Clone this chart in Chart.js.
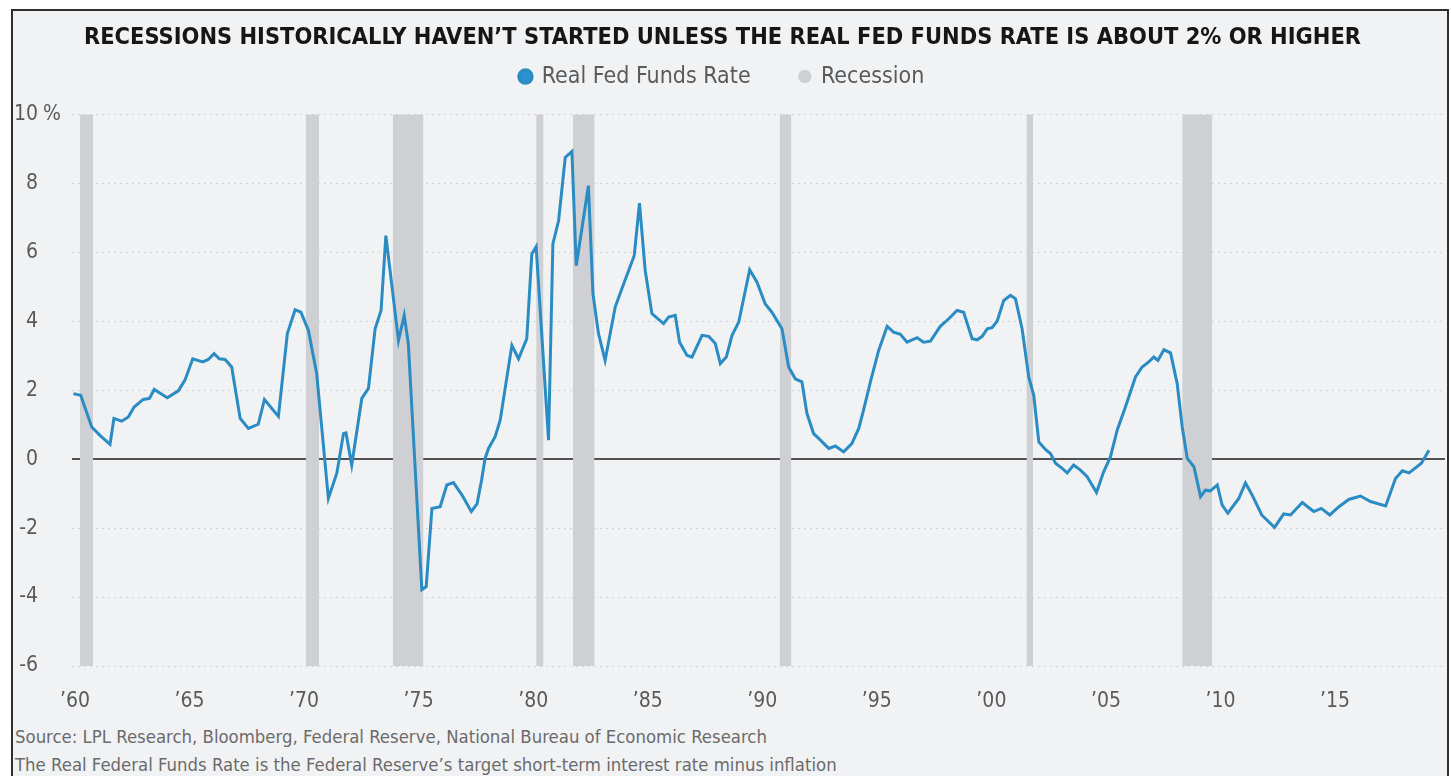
<!DOCTYPE html>
<html>
<head>
<meta charset="utf-8">
<script src="https://cdn.jsdelivr.net/npm/chart.js@4.4.1/dist/chart.umd.min.js"></script>
<style>
  html, body { margin: 0; padding: 0; background: #fff; }
  body { width: 1451px; height: 776px; position: relative; overflow: hidden;
         font-family: 'Liberation Sans Narrow', 'DejaVu Sans Condensed', 'Roboto', sans-serif; }
  #frame { position: absolute; left: 11px; top: 9px; width: 1434px; height: 780px;
           background: #f1f2f4; border: 2px solid #2e2e2e; }
  #wrap { position: absolute; left: 0; top: 0; width: 1451px; height: 722px; }
  .note { position: absolute; left: 15px; font-size: 18.4px; line-height: 22px; color: #6b6b6b; white-space: nowrap; }
</style>
</head>
<body>
<div id="frame"></div>
<div id="wrap"><canvas id="myChart"></canvas></div>
<div class="note" style="top:726px">Source: LPL Research, Bloomberg, Federal Reserve, National Bureau of Economic Research</div>
<div class="note" style="top:754px">The Real Federal Funds Rate is the Federal Reserve’s target short-term interest rate minus inflation</div>
<script>
  const FONT = "'Liberation Sans Narrow', 'DejaVu Sans Condensed', 'Roboto', sans-serif";

  // real fed funds rate (decimal year, %)
  const rateYears = [
    1959.93, 1960.25, 1960.73, 1961.09, 1961.53, 1961.70, 1962.04, 1962.33, 1962.58, 1962.98,
    1963.25, 1963.46, 1964.03, 1964.51, 1964.80, 1965.14, 1965.58, 1965.82, 1966.07, 1966.30,
    1966.55, 1966.84, 1967.21, 1967.57, 1968.00, 1968.27, 1968.88, 1969.27, 1969.61, 1969.86,
    1970.19, 1970.55, 1971.06, 1971.43, 1971.72, 1971.83, 1972.08, 1972.52, 1972.81, 1973.10,
    1973.36, 1973.57, 1974.12, 1974.37, 1974.55, 1975.14, 1975.33, 1975.58, 1975.94, 1976.23,
    1976.52, 1976.90, 1977.30, 1977.55, 1977.75, 1977.90, 1978.05, 1978.34, 1978.56, 1979.07,
    1979.36, 1979.72, 1979.94, 1980.13, 1980.67, 1980.86, 1981.11, 1981.40, 1981.69, 1981.88,
    1982.41, 1982.61, 1982.85, 1983.14, 1983.58, 1983.87, 1984.41, 1984.64, 1984.89, 1985.18,
    1985.69, 1985.91, 1986.20, 1986.39, 1986.71, 1986.93, 1987.37, 1987.66, 1987.95, 1988.17,
    1988.43, 1988.68, 1988.97, 1989.45, 1989.77, 1990.13, 1990.42, 1990.86, 1991.15, 1991.44,
    1991.73, 1991.95, 1992.24, 1992.46, 1992.90, 1993.19, 1993.55, 1993.91, 1994.21, 1994.42,
    1994.72, 1995.08, 1995.45, 1995.73, 1996.03, 1996.32, 1996.76, 1997.04, 1997.34, 1997.77,
    1998.14, 1998.50, 1998.79, 1999.16, 1999.38, 1999.60, 1999.82, 2000.03, 2000.25, 2000.54,
    2000.83, 2001.05, 2001.34, 2001.63, 2001.85, 2002.07, 2002.36, 2002.58, 2002.80, 2003.09,
    2003.31, 2003.59, 2003.89, 2004.18, 2004.59, 2004.90, 2005.20, 2005.49, 2005.85, 2006.29,
    2006.58, 2006.87, 2007.09, 2007.27, 2007.53, 2007.82, 2008.11, 2008.33, 2008.55, 2008.84,
    2009.13, 2009.34, 2009.56, 2009.86, 2010.07, 2010.32, 2010.80, 2011.09, 2011.38, 2011.80,
    2012.36, 2012.76, 2013.06, 2013.57, 2014.07, 2014.40, 2014.77, 2015.17, 2015.60, 2016.11,
    2016.55, 2017.21, 2017.64, 2017.94, 2018.23, 2018.77, 2019.10
  ];
  const rateValues = [
    1.90, 1.85, 0.93, 0.69, 0.43, 1.18, 1.10, 1.22, 1.51, 1.73,
    1.76, 2.02, 1.78, 1.98, 2.29, 2.91, 2.82, 2.89, 3.06, 2.91,
    2.89, 2.67, 1.18, 0.89, 1.01, 1.73, 1.24, 3.64, 4.33, 4.26,
    3.73, 2.48, -1.14, -0.41, 0.74, 0.76, -0.17, 1.76, 2.05, 3.78,
    4.31, 6.48, 3.44, 4.17, 3.35, -3.79, -3.70, -1.43, -1.38, -0.75,
    -0.68, -1.05, -1.52, -1.30, -0.60, 0.02, 0.31, 0.65, 1.13, 3.30,
    2.91, 3.49, 5.95, 6.16, 0.55, 6.24, 6.92, 8.75, 8.92, 5.61,
    7.93, 4.79, 3.64, 2.86, 4.41, 4.94, 5.90, 7.42, 5.47, 4.22,
    3.93, 4.12, 4.17, 3.39, 3.01, 2.96, 3.59, 3.56, 3.35, 2.77,
    2.96, 3.59, 3.97, 5.49, 5.13, 4.50, 4.26, 3.78, 2.67, 2.33,
    2.24, 1.32, 0.74, 0.60, 0.31, 0.38, 0.21, 0.45, 0.89, 1.42,
    2.24, 3.15, 3.85, 3.68, 3.62, 3.39, 3.52, 3.39, 3.42, 3.85,
    4.07, 4.31, 4.26, 3.49, 3.46, 3.56, 3.78, 3.81, 4.00, 4.60,
    4.75, 4.65, 3.78, 2.38, 1.85, 0.50, 0.28, 0.16, -0.12, -0.27,
    -0.40, -0.17, -0.32, -0.51, -0.97, -0.37, 0.07, 0.84, 1.51, 2.38,
    2.67, 2.82, 2.96, 2.86, 3.17, 3.08, 2.19, 0.93, 0.02, -0.22,
    -1.09, -0.90, -0.92, -0.75, -1.33, -1.57, -1.14, -0.69, -1.04, -1.62,
    -1.98, -1.59, -1.62, -1.26, -1.52, -1.43, -1.62, -1.38, -1.17, -1.07,
    -1.23, -1.36, -0.56, -0.34, -0.40, -0.12, 0.26
  ];

  // recession bands as drawn (start / end, decimal year)
  const recStart = [1960.22, 1970.07, 1973.87, 1980.13, 1981.73, 1990.76, 2001.53, 2008.33];
  const recEnd   = [1960.79, 1970.66, 1975.21, 1980.45, 1982.68, 1991.27, 2001.82, 2009.64];

  const xTicks = [1960, 1965, 1970, 1975, 1980, 1985, 1990, 1995, 2000, 2005, 2010, 2015];
  const yTicks = [-6, -4, -2, 0, 2, 4, 6, 8, 10];
  const X_MIN = 1959.87, X_MAX = 2019.8;
  const Y_MIN = -6, Y_MAX = 10;

  const ratePoints = rateYears.map((x, i) => ({x: x, y: rateValues[i]}));

  const recPoints = [];
  for (let i = 0; i < recStart.length; i++) {
    recPoints.push({x: recStart[i], y: Y_MAX});
    recPoints.push({x: recEnd[i], y: Y_MAX});
    recPoints.push({x: recEnd[i], y: null});
  }

  // "%" after the top y label
  const percentSign = {
    id: 'percentSign',
    afterDraw(chart) {
      const y = chart.scales.y;
      const c = chart.ctx;
      c.save();
      c.font = '21px ' + FONT;
      c.fillStyle = '#5a5a5a';
      c.textAlign = 'left';
      c.textBaseline = 'middle';
      c.fillText('%', y.right - y.options.ticks.padding + 5, y.getPixelForValue(10));
      c.restore();
    }
  };

  const ctx = document.getElementById('myChart').getContext('2d');

  const myChart = new Chart(ctx, {
    type: 'line',
    data: {
      datasets: [{
        label: 'Real Fed Funds Rate',
        data: ratePoints,
        borderColor: '#2a8cc2',
        backgroundColor: '#2a92cf',
        borderWidth: 3,
        pointRadius: 0,
        tension: 0,
        fill: false,
      }, {
        label: 'Recession',
        data: recPoints,
        borderWidth: 0,
        borderColor: 'rgba(0,0,0,0)',
        backgroundColor: '#cfd0d3',
        pointRadius: 0,
        spanGaps: false,
        fill: 'start',
      }, {
        label: 'zero',
        data: [{x: X_MIN, y: 0}, {x: X_MAX, y: 0}],
        borderColor: '#1e1e1e',
        borderWidth: 1.5,
        pointRadius: 0,
        fill: false,
      }],
    },
    options: {
      responsive: true,
      maintainAspectRatio: false,
      animation: false,
      layout: { padding: { left: 0, right: 6, top: 0, bottom: 0 } },
      plugins: {
        title: {
          display: true,
          text: 'RECESSIONS HISTORICALLY HAVEN’T STARTED UNLESS THE REAL FED FUNDS RATE IS ABOUT 2% OR HIGHER',
          color: '#161616',
          font: { family: FONT, size: 23.4, weight: 'bold' },
          padding: { top: 24, bottom: 5 },
        },
        // empty spacer between legend and plot area
        subtitle: {
          display: true,
          text: ' ',
          weight: 500,
          font: { size: 1 },
          padding: { top: 0, bottom: 15 },
        },
        legend: {
          display: true,
          labels: {
            usePointStyle: true,
            pointStyle: 'circle',
            boxWidth: 9.5,
            boxHeight: 9.5,
            color: '#5a5a5a',
            font: { family: FONT, size: 23 },
            padding: 8,
            generateLabels: (chart) => {
              const items = Chart.defaults.plugins.legend.labels.generateLabels(chart);
              return items.filter(it => it.text !== 'zero').map((it, i) => {
                if (i === 0) it.text = it.text + '\u2002\u2002\u2002\u2002';
                return it;
              });
            },
          },
        },
        tooltip: { enabled: false },
      },
      scales: {
        x: {
          type: 'linear',
          min: X_MIN,
          max: X_MAX,
          afterBuildTicks: (scale) => { scale.ticks = xTicks.map(v => ({value: v})); },
          afterFit: (scale) => { scale.height = 56; },
          grid: { display: false, drawTicks: false },
          border: { display: false },
          ticks: {
            color: '#5a5a5a',
            font: { family: FONT, size: 21 },
            padding: 23,
            maxRotation: 0,
            callback: (v) => '’' + String(v).slice(2),
          },
        },
        y: {
          min: Y_MIN,
          max: Y_MAX,
          afterBuildTicks: (scale) => { scale.ticks = yTicks.map(v => ({value: v})); },
          afterFit: (scale) => { scale.width = 72; },
          grid: { color: '#d3d4d7', lineWidth: 1, drawTicks: false },
          border: { display: false, dash: [2, 4] },
          ticks: {
            color: '#5a5a5a',
            font: { family: FONT, size: 21 },
            padding: 34,
            callback: (v) => String(v),
          },
        },
      },
    },
    plugins: [percentSign],
  });
</script>
</body>
</html>
